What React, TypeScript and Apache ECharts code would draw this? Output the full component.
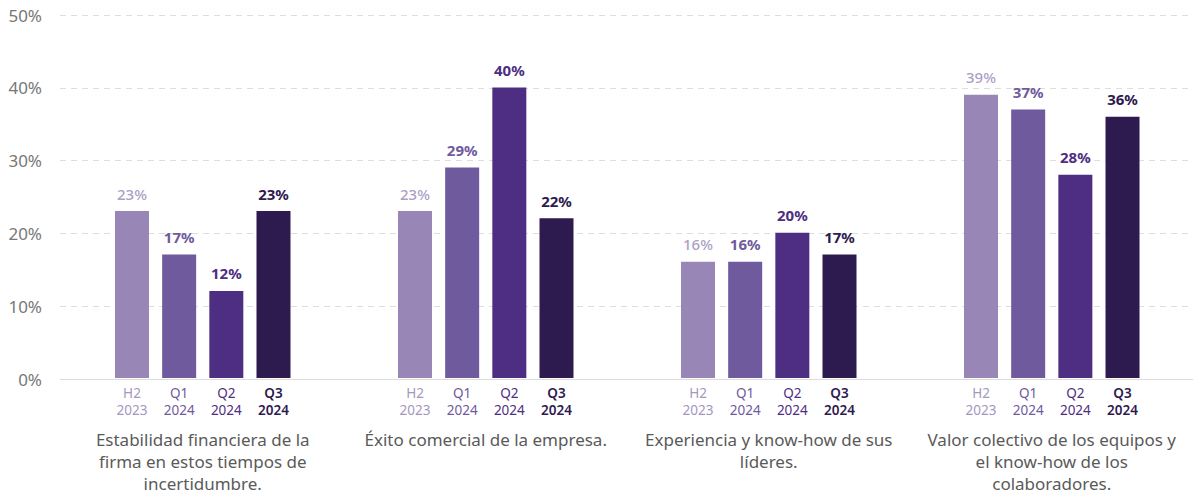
import React, { useEffect, useRef } from "react";
import * as echarts from "echarts";

const groupLabels = [
  "Estabilidad financiera de la\nfirma en estos tiempos de\nincertidumbre.",
  "Éxito comercial de la empresa.",
  "Experiencia y know-how de sus\nlíderes.",
  "Valor colectivo de los equipos y\nel know-how de los\ncolaboradores.",
];
const periodKeys = ["h2", "q1", "q2", "q3"];
const periodLabels = ["H2\n2023", "Q1\n2024", "Q2\n2024", "Q3\n2024"];
const h2_2023 = [23, 23, 16, 39];
const q1_2024 = [17, 29, 16, 37];
const q2_2024 = [12, 40, 20, 28];
const q3_2024 = [23, 22, 17, 36];
const yTicks = [0, 10, 20, 30, 40, 50];

const barColors = ["#9786b6", "#6f5a9e", "#4e2e82", "#2d1a4f"];
const valueColors = ["#ab9fc6", "#6f5a9e", "#4e2e82", "#2d1a4f"];
const periodColors = ["#a497c0", "#6f5a9e", "#4e2e82", "#2d1a4f"];

const FONT = "'Noto Sans', 'Open Sans', sans-serif";

export default function App() {
  const ref = useRef<HTMLDivElement>(null);
  useEffect(() => {
    if (!ref.current) return;
    const chart = echarts.init(ref.current, undefined, { renderer: "svg" });
    const seriesValues = [h2_2023, q1_2024, q2_2024, q3_2024];
    const nGroups = groupLabels.length;
    const slotsPerGroup = 6;
    const nSlots = nGroups * slotsPerGroup - 2;
    const categories: string[] = [];
    const slotPeriod: number[] = [];
    for (let s = 0; s < nSlots; s++) {
      const p = s % slotsPerGroup;
      if (p < 4) {
        categories.push(periodKeys[p] + "|" + s);
        slotPeriod.push(p);
      } else {
        categories.push("gap|" + s);
        slotPeriod.push(-1);
      }
    }
    const rich: any = {};
    periodKeys.forEach((k, i) => {
      rich[k] = {
        color: periodColors[i],
        fontSize: 13.5,
        lineHeight: 16.5,
        fontFamily: FONT,
        fontWeight: i === 3 ? 600 : 400,
        align: "center",
      };
    });
    const series = seriesValues.map((vals, p) => {
      const data: (number | null)[] = [];
      for (let s = 0; s < nSlots; s++) {
        const g = Math.floor(s / slotsPerGroup);
        data.push(slotPeriod[s] === p ? vals[g] : null);
      }
      return {
        type: "bar",
        name: periodLabels[p].replace("\n", " "),
        xAxisIndex: 1,
        yAxisIndex: 1,
        stack: "all",
        barWidth: 34,
        data,
        itemStyle: { color: barColors[p] },
        label: {
          show: true,
          position: "top",
          distance: 10,
          formatter: "{c}%",
          color: valueColors[p],
          fontSize: 15,
          fontWeight: p === 0 ? 500 : 700,
          fontFamily: FONT,
        },
      };
    });
    const top = 15;
    const bottom = 115;
    chart.setOption({
      animation: false,
      grid: [
        { left: 60, right: 0, top, bottom },
        { left: 108.4, right: 46.9, top, bottom },
      ],
      xAxis: [
        {
          type: "value",
          gridIndex: 0,
          min: 0,
          max: 1,
          axisLine: { show: true, lineStyle: { color: "#dcdcdc", width: 1 } },
          axisTick: { show: false },
          axisLabel: { show: false },
          splitLine: { show: false },
        },
        {
          type: "category",
          gridIndex: 1,
          data: categories,
          axisLine: { show: false },
          axisTick: { show: false },
          splitLine: { show: false },
          axisLabel: {
            interval: 0,
            margin: 7,
            formatter: (v: string) => {
              const [k] = v.split("|");
              if (k === "gap") return "";
              const i = periodKeys.indexOf(k);
              const [a, b] = periodLabels[i].split("\n");
              return `{${k}|${a}}\n{${k}|${b}}`;
            },
            rich,
          },
        },
        {
          type: "value",
          gridIndex: 1,
          position: "bottom",
          min: -0.5,
          max: nSlots - 0.5,
          axisLine: { show: false },
          axisTick: { show: false },
          splitLine: { show: false },
          axisLabel: {
            customValues: groupLabels.map((_, g) => g * slotsPerGroup + 1.5),
            margin: 50,
            color: "#5a5a5a",
            fontSize: 17,
            lineHeight: 22,
            fontFamily: FONT,
            align: "center",
            formatter: (v: number) =>
              groupLabels[Math.round((v - 1.5) / slotsPerGroup)] ?? "",
          },
        },
      ],
      yAxis: [
        {
          type: "value",
          gridIndex: 0,
          min: yTicks[0],
          max: yTicks[yTicks.length - 1],
          interval: 10,
          axisLine: { show: false },
          axisTick: { show: false },
          axisLabel: {
            formatter: "{value}%",
            color: "#777777",
            fontSize: 17,
            fontFamily: FONT,
            margin: 18,
          },
          splitLine: {
            show: true,
            lineStyle: { color: "#dedede", type: [6, 5], width: 1 },
          },
        },
        {
          type: "value",
          gridIndex: 1,
          min: yTicks[0],
          max: yTicks[yTicks.length - 1],
          interval: 10,
          axisLine: { show: false },
          axisTick: { show: false },
          axisLabel: { show: false },
          splitLine: { show: false },
        },
      ],
      series,
    });
    return () => chart.dispose();
  }, []);
  return (
    <div
      ref={ref}
      style={{ position: "absolute", left: 0, top: 0, width: 1193, height: 494, background: "#fff" }}
    />
  );
}
